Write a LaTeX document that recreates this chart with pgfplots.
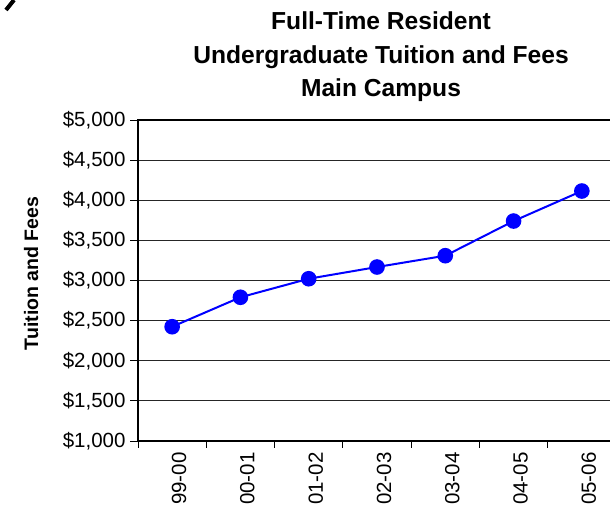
\documentclass[border=0pt]{standalone}
\usepackage{pgfplots}
\pgfplotsset{compat=1.18}
\usepackage{fontspec}
\setmainfont{Liberation Sans}
\definecolor{ptblue}{RGB}{0,0,255}
\begin{document}
\begin{tikzpicture}
  \begin{axis}[
    at={(138bp,72bp)}, anchor=south west,
    scale only axis, width=478bp, height=321bp,
    xmin=0.5, xmax=7.5, ymin=1000, ymax=5000,
    ytick={1000,1500,...,5000},
    xtick={1,...,7},
    xticklabels={99-00,00-01,01-02,02-03,03-04,04-05,05-06},
    minor xtick={0.5,1.5,...,7.5},
    major x tick style={draw=none},
    tick align=outside, xtick pos=bottom, ytick pos=left,
    major tick length=8bp, minor tick length=7bp,
    tick style={black, line width=0.8bp},
    ymajorgrids=true,
    major grid style={black!85, line width=0.8bp},
    axis line style={black, line width=2bp},
    /pgf/number format/assume math mode=true,
    yticklabel={\$\pgfmathprintnumber[1000 sep={,}]{\tick}},
    ticklabel style={font=\fontsize{20.5bp}{23bp}\selectfont},
    yticklabel style={xshift=-1bp},
    xticklabel style={rotate=90, anchor=east, yshift=-7bp},
    clip=false,
  ]
    \addplot[color=ptblue, line width=2bp, mark=*, mark size=6.8bp,
             mark options={fill=ptblue, draw=ptblue}]
      coordinates {(1,2424) (2,2791) (3,3022) (4,3168) (5,3309) (6,3741) (7,4115)};
  \end{axis}
  \node[anchor=base, font=\fontsize{24.6bp}{28bp}\selectfont\bfseries] at (381bp,483.7bp) {Full-Time Resident};
  \node[anchor=base, font=\fontsize{24.6bp}{28bp}\selectfont\bfseries] at (381bp,449.7bp) {Undergraduate Tuition and Fees};
  \node[anchor=base, font=\fontsize{24.6bp}{28bp}\selectfont\bfseries] at (381bp,416.3bp) {Main Campus};
  \node[anchor=base, rotate=90, font=\fontsize{19.5bp}{22bp}\selectfont\bfseries] at (38bp,239.5bp) {Tuition and Fees};
  \draw[line width=4bp] (6bp,503bp) -- (14bp,513bp);
  \pgfresetboundingbox
  \useasboundingbox (0,0) rectangle (610bp,513bp);
\end{tikzpicture}
\end{document}
